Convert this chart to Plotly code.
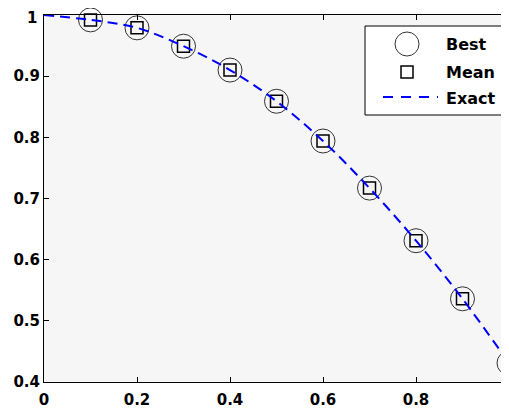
import plotly.graph_objects as go

x_pts = [0.1, 0.2, 0.3, 0.4, 0.5, 0.6, 0.7, 0.8, 0.9, 1.0]
best_vals = [0.992, 0.979, 0.949, 0.910, 0.859, 0.794, 0.717, 0.631, 0.536, 0.431]
mean_vals = [0.992, 0.979, 0.949, 0.910, 0.859, 0.794, 0.717, 0.631, 0.536, 0.431]
exact_x = [0.0, 0.1, 0.2, 0.3, 0.4, 0.5, 0.6, 0.7, 0.8, 0.9, 1.0]
exact_y = [1.0, 0.992, 0.979, 0.949, 0.910, 0.859, 0.794, 0.717, 0.631, 0.536, 0.431]
x_ticks = [0, 0.2, 0.4, 0.6, 0.8, 1]
x_tick_labels = ["0", "0.2", "0.4", "0.6", "0.8", "1"]
y_ticks = [0.4, 0.5, 0.6, 0.7, 0.8, 0.9, 1]
y_tick_labels = ["0.4", "0.5", "0.6", "0.7", "0.8", "0.9", "1"]
legend_names = ["Best", "Mean", "Exact"]

FONT = "DejaVu Sans, Arial, sans-serif"

# figure is placed at page offset (8, 8) by the default body margin
W, H = 501, 400
ML, MR, MT, MB = 36, 0, 7, 26
PX0, PX1 = ML, W - MR
PY0, PY1 = MT, H - MB

fig = go.Figure()
fig.add_trace(go.Scatter(
    x=x_pts, y=best_vals, mode="markers", name="Best", showlegend=False, cliponaxis=False,
    marker=dict(symbol="circle-open", size=24, color="#333", line=dict(width=1, color="#333")),
))
fig.add_trace(go.Scatter(
    x=x_pts, y=mean_vals, mode="markers", name="Mean", showlegend=False, cliponaxis=False,
    marker=dict(symbol="square-open", size=12, color="black", line=dict(width=1.5, color="black")),
))
fig.add_trace(go.Scatter(
    x=exact_x, y=exact_y, mode="lines", name="Exact", line_shape="spline", showlegend=False,
    line=dict(color="#0000ff", width=2, dash="10px,6px"),
))

# manual legend (pixel coordinates in overlay axes)
leg_left, leg_right, leg_top, leg_bot = 357, 495, 18, 107
sym_x = 399
row_y = [36, 64, 89]
fig.add_trace(go.Scatter(
    x=[sym_x], y=[row_y[0]], xaxis="x2", yaxis="y2", mode="markers", showlegend=False,
    cliponaxis=False, hoverinfo="skip",
    marker=dict(symbol="circle-open", size=24, color="#333", line=dict(width=1, color="#333")),
))
fig.add_trace(go.Scatter(
    x=[sym_x], y=[row_y[1]], xaxis="x2", yaxis="y2", mode="markers", showlegend=False,
    cliponaxis=False, hoverinfo="skip",
    marker=dict(symbol="square-open", size=12, color="black", line=dict(width=1.5, color="black")),
))

shapes = [
    dict(type="rect", xref="x2", yref="y2", x0=leg_left, x1=leg_right, y0=leg_top, y1=leg_bot,
         line=dict(color="black", width=1), fillcolor="white", layer="below"),
    dict(type="line", xref="x2", yref="y2", x0=375, x1=430, y0=row_y[2], y1=row_y[2],
         line=dict(color="#0000ff", width=2, dash="10px,8px")),
]
annotations = []
for name, ry in zip(legend_names, [36.5, 64.5, 90]):
    annotations.append(dict(
        x=436, y=ry, xref="x2", yref="y2", text="<b>%s</b>" % name, showarrow=False,
        xanchor="left", yanchor="middle",
        font=dict(family=FONT, size=16, color="black"),
    ))

tickfont = dict(family=FONT, size=15, color="black")
# topmost y tick label drawn as an annotation so it is not hidden at the div edge
y_text = ["<b>%s</b>" % t for t in y_tick_labels]
annotations.append(dict(
    x=0, y=y_ticks[-1], xref="paper", yref="y", text=y_text[-1], showarrow=False,
    xanchor="right", yanchor="top", xshift=-6, yshift=MT, borderpad=0,
    font=tickfont,
))
y_text[-1] = ""

fig.update_layout(
    width=W, height=H,
    margin=dict(l=ML, r=MR, t=MT, b=MB),
    paper_bgcolor="white", plot_bgcolor="#f6f6f6",
    font=dict(family=FONT, size=15, color="black"),
    showlegend=False,
    shapes=shapes,
    annotations=annotations,
    xaxis=dict(
        range=[0, 1], tickvals=x_ticks, ticktext=["<b>%s</b>" % t for t in x_tick_labels],
        ticks="inside", ticklen=5, tickcolor="black", showgrid=False, zeroline=False,
        showline=True, linecolor="black", linewidth=1, mirror="ticks",
        tickfont=tickfont, ticklabelstandoff=4,
    ),
    yaxis=dict(
        range=[0.4, 1], tickvals=y_ticks, ticktext=y_text,
        ticks="inside", ticklen=5, tickcolor="black", showgrid=False, zeroline=False,
        showline=True, linecolor="black", linewidth=1, mirror="ticks",
        tickfont=tickfont,
    ),
    xaxis2=dict(range=[PX0, PX1], overlaying="x", visible=False, fixedrange=True),
    yaxis2=dict(range=[PY1, PY0], overlaying="y", visible=False, fixedrange=True),
)

fig.write_html("out.html")
